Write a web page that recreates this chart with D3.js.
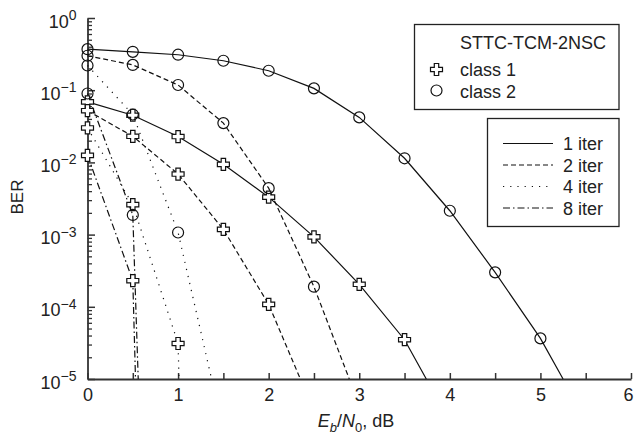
<!DOCTYPE html>
<html>
<head>
<meta charset="utf-8">
<script src="https://cdn.jsdelivr.net/npm/d3@7"></script>
<style>
  body { margin: 0; background: #fff; }
  svg { font-family: "Liberation Sans", Arial, sans-serif; }
</style>
</head>
<body>
<div id="chart"></div>
<script>
// BER values, x step 0.5 dB starting at 0
// class 1 (plus markers)
const c1_iter1 = [0.069, 0.045, 0.0228, 0.0094, 0.0033, 9.3e-4, 2.05e-4, 3.5e-5];
const c1_iter2 = [0.052, 0.023, 0.0069, 0.00118, 1.08e-4];
const c1_iter4 = [0.030, 0.0026, 3.1e-5];
const c1_iter8 = [0.0125, 2.3e-4];
// class 2 (circle markers)
const c2_iter1 = [0.37, 0.34, 0.31, 0.256, 0.186, 0.106, 0.042, 0.0114, 0.00214, 3.0e-4, 3.65e-5];
const c2_iter2 = [0.30, 0.224, 0.118, 0.035, 0.0044, 1.9e-4];
const c2_iter4 = [0.22, 0.046, 0.00107];
const c2_iter8 = [0.09, 0.00187];
// where each curve leaves the bottom of the plot (Eb/N0 at BER = 1e-5)
const c1_ends = [3.74, 2.35, 1.01, 0.53];
const c2_ends = [5.25, 2.89, 1.37, 0.56];

const xStep = 0.5;
const iterNames = ["1 iter", "2 iter", "4 iter", "8 iter"];
const dashes = [null, "5,3", "1.2,6", "7,3,1.5,3"];
const xTicks = [0, 0.5, 1, 1.5, 2, 2.5, 3, 3.5, 4, 4.5, 5, 5.5, 6];
const decades = [1e-5, 1e-4, 1e-3, 1e-2, 1e-1, 1];

const width = 635;
const height = 434;
const plotLeft = 87.5, plotRight = 631, plotTop = 18, plotBottom = 379;

const svg = d3.select("#chart").append("svg")
  .attr("width", width)
  .attr("height", height);

const xScale = d3.scaleLinear().domain([0, 6]).range([plotLeft, plotRight]);
const yScale = d3.scaleLog().domain([1e-5, 1]).range([plotBottom, plotTop]);

// 軸の色
const axisColor = "#333";

// X axis, ticks pointing inward
const axisx = d3.axisBottom(xScale)
  .tickValues(xTicks)
  .tickSizeInner(-6)
  .tickSizeOuter(0)
  .tickPadding(9)
  .tickFormat(function (d) { return Number.isInteger(d) ? d : ""; });

const gx = svg.append("g")
  .attr("transform", "translate(0," + plotBottom + ")")
  .call(axisx);
gx.select(".domain").attr("stroke", axisColor).attr("stroke-width", 1.8);
gx.selectAll(".tick line").attr("stroke", axisColor).attr("stroke-width", 1.5);
gx.selectAll(".tick text")
  .attr("fill", "#222")
  .style("font-size", "18px")
  .style("font-family", "Liberation Sans, Arial, sans-serif");
// last label sits at the right edge of the picture
gx.selectAll(".tick text").filter(function (d) { return d === 6; }).attr("dx", -3);

// Y axis minor ticks 2..9 in each decade
const minors = [];
decades.slice(0, -1).forEach(function (d) {
  for (let m = 2; m <= 9; m++) minors.push(d * m);
});
const axisyMinor = d3.axisLeft(yScale)
  .tickValues(minors)
  .tickSizeInner(-4.5)
  .tickSizeOuter(0)
  .tickFormat("");
const gym = svg.append("g")
  .attr("transform", "translate(" + plotLeft + ",0)")
  .call(axisyMinor);
gym.select(".domain").remove();
gym.selectAll(".tick line").attr("stroke", axisColor).attr("stroke-width", 1.3);

// Y axis major ticks with 10^k labels
const axisy = d3.axisLeft(yScale)
  .tickValues(decades)
  .tickSizeInner(-7.5)
  .tickSizeOuter(0)
  .tickPadding(11)
  .tickFormat("");
const gy = svg.append("g")
  .attr("transform", "translate(" + plotLeft + ",0)")
  .call(axisy);
gy.select(".domain").attr("stroke", axisColor).attr("stroke-width", 1.8);
gy.selectAll(".tick line").attr("stroke", axisColor).attr("stroke-width", 1.5);
gy.selectAll(".tick text").each(function (d) {
  const t = d3.select(this)
    .attr("dy", null)
    .attr("y", 9)
    .attr("fill", "#222")
    .style("font-size", "18px")
    .style("font-family", "Liberation Sans, Arial, sans-serif");
  const p = Math.round(Math.log10(d));
  t.append("tspan").text("10");
  t.append("tspan")
    .attr("dy", -7.5)
    .style("font-size", "14px")
    .text(p < 0 ? "\u2212" + (-p) : String(p));
});

// axis titles
svg.append("text")
  .attr("transform", "translate(23,197) rotate(-90)")
  .attr("text-anchor", "middle")
  .attr("fill", "#222")
  .style("font-size", "17px")
  .text("BER");

const xt = svg.append("text")
  .attr("x", 356)
  .attr("y", 427)
  .attr("text-anchor", "middle")
  .attr("fill", "#222")
  .style("font-size", "18px");
xt.append("tspan").style("font-style", "italic").text("E");
xt.append("tspan").style("font-style", "italic").style("font-size", "13px").attr("dy", 5).text("b");
xt.append("tspan").attr("dy", -5).text("/");
xt.append("tspan").style("font-style", "italic").text("N");
xt.append("tspan").style("font-size", "13px").attr("dy", 5).text("0");
xt.append("tspan").attr("dy", -5).text(", dB");

// series
const series = [];
[c1_iter1, c1_iter2, c1_iter4, c1_iter8].forEach(function (v, i) {
  series.push({ cls: 1, iter: i, values: v, end: c1_ends[i] });
});
[c2_iter1, c2_iter2, c2_iter4, c2_iter8].forEach(function (v, i) {
  series.push({ cls: 2, iter: i, values: v, end: c2_ends[i] });
});

const line = d3.line()
  .x(function (d) { return xScale(d[0]); })
  .y(function (d) { return yScale(d[1]); });

series.forEach(function (s) {
  s.points = s.values.map(function (v, i) { return [i * xStep, v]; });
  s.path = s.points.concat([[s.end, 1e-5]]);
});

svg.append("g")
  .selectAll("path")
  .data(series)
  .enter()
  .append("path")
  .attr("d", function (d) { return line(d.path); })
  .attr("fill", "none")
  .attr("stroke", "#111")
  .attr("stroke-width", 1.2)
  .attr("stroke-dasharray", function (d) { return dashes[d.iter]; });

// plus marker shape
const a = 2.2, L = 6;
const plusPath = "M" + (-a) + "," + (-L) + "H" + a + "V" + (-a) + "H" + L + "V" + a + "H" + a +
  "V" + L + "H" + (-a) + "V" + a + "H" + (-L) + "V" + (-a) + "H" + (-a) + "Z";

series.forEach(function (s) {
  const g = svg.append("g");
  if (s.cls === 1) {
    g.selectAll("path")
      .data(s.points)
      .enter()
      .append("path")
      .attr("d", plusPath)
      .attr("transform", function (d) { return "translate(" + xScale(d[0]) + "," + yScale(d[1]) + ")"; })
      .attr("fill", "#fff")
      .attr("stroke", "#111")
      .attr("stroke-width", 1.2);
  } else {
    g.selectAll("circle")
      .data(s.points)
      .enter()
      .append("circle")
      .attr("cx", function (d) { return xScale(d[0]); })
      .attr("cy", function (d) { return yScale(d[1]); })
      .attr("r", 5.5)
      .attr("fill", "none")
      .attr("stroke", "#111")
      .attr("stroke-width", 1.2);
  }
});

// legend 1: marker classes
const lg1 = svg.append("g");
lg1.append("rect")
  .attr("x", 414.5).attr("y", 24.5)
  .attr("width", 204.5).attr("height", 85)
  .attr("fill", "#fff").attr("stroke", "#222").attr("stroke-width", 1.3);
lg1.append("text")
  .attr("x", 460).attr("y", 48.5)
  .attr("fill", "#222").style("font-size", "18px")
  .text("STTC-TCM-2NSC");
lg1.append("path")
  .attr("d", plusPath)
  .attr("transform", "translate(436.5,69.5)")
  .attr("fill", "#fff").attr("stroke", "#111").attr("stroke-width", 1.2);
lg1.append("text")
  .attr("x", 460).attr("y", 76)
  .attr("fill", "#222").style("font-size", "18px")
  .text("class 1");
lg1.append("circle")
  .attr("cx", 436.5).attr("cy", 90.5).attr("r", 5.5)
  .attr("fill", "none").attr("stroke", "#111").attr("stroke-width", 1.2);
lg1.append("text")
  .attr("x", 460).attr("y", 97.5)
  .attr("fill", "#222").style("font-size", "18px")
  .text("class 2");

// legend 2: iterations
const lg2 = svg.append("g");
lg2.append("rect")
  .attr("x", 487.5).attr("y", 118.5)
  .attr("width", 131.5).attr("height", 108)
  .attr("fill", "#fff").attr("stroke", "#222").attr("stroke-width", 1.3);
iterNames.forEach(function (name, i) {
  const yy = 143.5 + i * 21.5;
  lg2.append("line")
    .attr("x1", 503).attr("x2", 553)
    .attr("y1", yy).attr("y2", yy)
    .attr("stroke", "#111").attr("stroke-width", 1.2)
    .attr("stroke-dasharray", dashes[i]);
  lg2.append("text")
    .attr("x", 563).attr("y", yy + 6.5)
    .attr("fill", "#222").style("font-size", "18px")
    .text(name);
});
</script>
</body>
</html>
